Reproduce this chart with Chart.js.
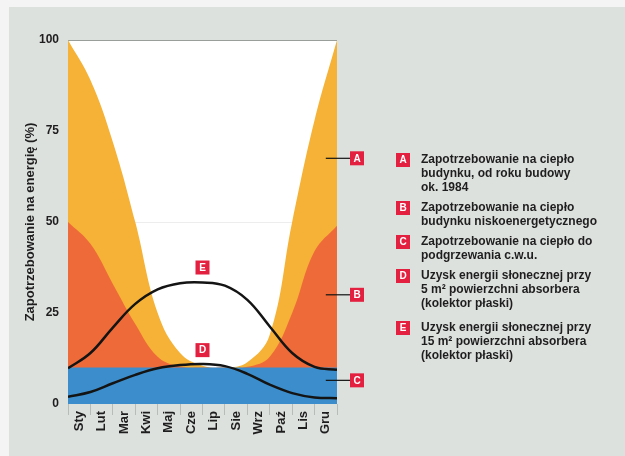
<!DOCTYPE html>
<html>
<head>
<meta charset="utf-8">
<script src="https://cdn.jsdelivr.net/npm/chart.js@4.4.0/dist/chart.umd.min.js"></script>
<style>
html, body { margin: 0; padding: 0; background: #f3f4f3; }
canvas { display: block; }
</style>
</head>
<body>
<canvas id="chart" width="625" height="456"></canvas>
<script>
// months (labels sit in the middle of each month, data at month boundaries 0..12)
var months = ["Sty", "Lut", "Mar", "Kwi", "Maj", "Cze", "Lip", "Sie", "Wrz", "Paź", "Lis", "Gru"];
var monthX = [0, 1, 2, 3, 4, 5, 6, 7, 8, 9, 10, 11, 12];
var yTicks = [0, 25, 50, 75, 100];

// % of energy demand / solar gain
var demandA = [100, 89, 72, 50, 25, 14, 10.5, 10, 11.5, 19, 50, 78, 100];
var demandB = [50, 44, 33, 22, 13, 10.3, 10, 10, 10.2, 13, 25, 42, 49];
var demandC = [10, 10, 10, 10, 10, 10, 10, 10, 10, 10, 10, 10, 10];
var solarD = [2, 3.3, 5.7, 8, 9.8, 10.7, 11, 10.4, 8.3, 5.3, 3, 1.8, 1.6];
var solarE = [9.8, 14, 21, 27.5, 31.5, 33.2, 33.4, 32.5, 28.6, 21.3, 14, 10.2, 9.4];

var legendItems = [
    ["A", ["Zapotrzebowanie na ciepło", "budynku, od roku budowy", "ok. 1984"]],
    ["B", ["Zapotrzebowanie na ciepło", "budynku niskoenergetycznego"]],
    ["C", ["Zapotrzebowanie na ciepło do", "podgrzewania c.w.u."]],
    ["D", ["Uzysk energii słonecznej przy", "5 m² powierzchni absorbera", "(kolektor płaski)"]],
    ["E", ["Uzysk energii słonecznej przy", "15 m² powierzchni absorbera", "(kolektor płaski)"]]
];

function pts(arr) {
    return arr.map(function (v, i) { return { x: monthX[i], y: v }; });
}

var FONT = "'Liberation Sans', Arial, sans-serif";
var RED = "#e3203f";

function tag(ctx, letter, x, y) {
    ctx.fillStyle = RED;
    ctx.fillRect(x - 7, y - 7, 14, 14);
    ctx.fillStyle = "#fff";
    ctx.font = "bold 10px " + FONT;
    ctx.textAlign = "center";
    ctx.textBaseline = "middle";
    ctx.fillText(letter, x, y + 0.5);
}

var background = {
    id: "background",
    beforeDraw: function (chart) {
        var ctx = chart.ctx, a = chart.chartArea;
        ctx.save();
        ctx.fillStyle = "#f3f4f3";
        ctx.fillRect(0, 0, chart.width, chart.height);
        ctx.fillStyle = "#dde1de";
        ctx.fillRect(9, 7, chart.width - 9, chart.height - 7);
        ctx.fillStyle = "#ffffff";
        ctx.fillRect(a.left, a.top, a.right - a.left, a.bottom - a.top);
        ctx.restore();
    }
};

var annotations = {
    id: "annotations",
    afterDraw: function (chart) {
        var ctx = chart.ctx;
        var xs = chart.scales.x, ys = chart.scales.y;
        ctx.save();
        // side markers for areas A, B, C
        var marks = [["A", 67.5], ["B", 30], ["C", 6.5]];
        marks.forEach(function (m) {
            var y = ys.getPixelForValue(m[1]);
            ctx.strokeStyle = "#111";
            ctx.lineWidth = 1.2;
            ctx.beginPath();
            ctx.moveTo(xs.getPixelForValue(11.5), y);
            ctx.lineTo(350, y);
            ctx.stroke();
            tag(ctx, m[0], 357, y);
        });
        // curve markers for D and E
        tag(ctx, "E", xs.getPixelForValue(6), ys.getPixelForValue(37.5));
        tag(ctx, "D", xs.getPixelForValue(6), ys.getPixelForValue(14.8));

        // legend
        var y = 160;
        var gaps = [6, 6, 6, 10];
        legendItems.forEach(function (it, k) {
            tag(ctx, it[0], 403, y);
            ctx.fillStyle = "#1e1e1e";
            ctx.font = "bold 12px " + FONT;
            ctx.textAlign = "left";
            ctx.textBaseline = "middle";
            it[1].forEach(function (line, i) {
                ctx.fillText(line, 421, y + i * 14);
            });
            y += it[1].length * 14 + (gaps[k] || 0);
        });
        ctx.restore();
    }
};

new Chart(document.getElementById("chart"), {
    type: "line",
    data: {
        datasets: [
            { label: "D", data: pts(solarD), borderColor: "#141414", borderWidth: 2.5, fill: false },
            { label: "E", data: pts(solarE), borderColor: "#141414", borderWidth: 2.5, fill: false },
            { label: "C", data: pts(demandC), borderWidth: 0, backgroundColor: "#3b8ecb", fill: "origin" },
            { label: "B", data: pts(demandB), borderWidth: 0, backgroundColor: "#ee6a39", fill: "origin" },
            { label: "A", data: pts(demandA), borderWidth: 0, backgroundColor: "#f5b236", fill: "origin" }
        ]
    },
    options: {
        responsive: false,
        animation: false,
        devicePixelRatio: 1,
        layout: { padding: { left: 0, top: 40, right: 288, bottom: 0 } },
        elements: {
            point: { radius: 0 },
            line: { tension: 0.4, borderColor: "rgba(0,0,0,0)" }
        },
        plugins: {
            legend: { display: false },
            tooltip: { enabled: false }
        },
        scales: {
            x: {
                type: "linear",
                min: 0,
                max: 12,
                afterBuildTicks: function (axis) {
                    axis.ticks = months.map(function (m, i) { return { value: i + 0.5 }; });
                },
                afterFit: function (axis) { axis.height = 52; },
                border: { display: false },
                grid: {
                    offset: true,
                    drawOnChartArea: false,
                    drawTicks: true,
                    tickLength: 11,
                    color: "#b8bcb9",
                    lineWidth: 1
                },
                ticks: {
                    autoSkip: false,
                    maxRotation: 90,
                    minRotation: 90,
                    padding: -4,
                    color: "#1e1e1e",
                    font: { family: FONT, size: 13, weight: "bold" },
                    callback: function (v, i) { return months[i]; }
                }
            },
            y: {
                min: 0,
                max: 100,
                afterBuildTicks: function (axis) {
                    axis.ticks = yTicks.map(function (v) { return { value: v }; });
                },
                afterFit: function (axis) { axis.width = 68; },
                border: { display: false },
                grid: {
                    drawTicks: false,
                    color: function (c) {
                        if (c.tick && c.tick.value === 100) return "#9a9e9b";
                        if (c.tick && c.tick.value === 50) return "rgba(0,0,0,0.07)";
                        return "rgba(0,0,0,0)";
                    }
                },
                ticks: {
                    padding: 9,
                    color: "#1e1e1e",
                    font: { family: FONT, size: 12, weight: "bold" }
                },
                title: {
                    display: true,
                    text: "Zapotrzebowanie na energię (%)",
                    color: "#1e1e1e",
                    font: { family: FONT, size: 13, weight: "bold" },
                    padding: { top: 23, bottom: 0 }
                }
            }
        }
    },
    plugins: [background, annotations]
});
</script>
</body>
</html>
